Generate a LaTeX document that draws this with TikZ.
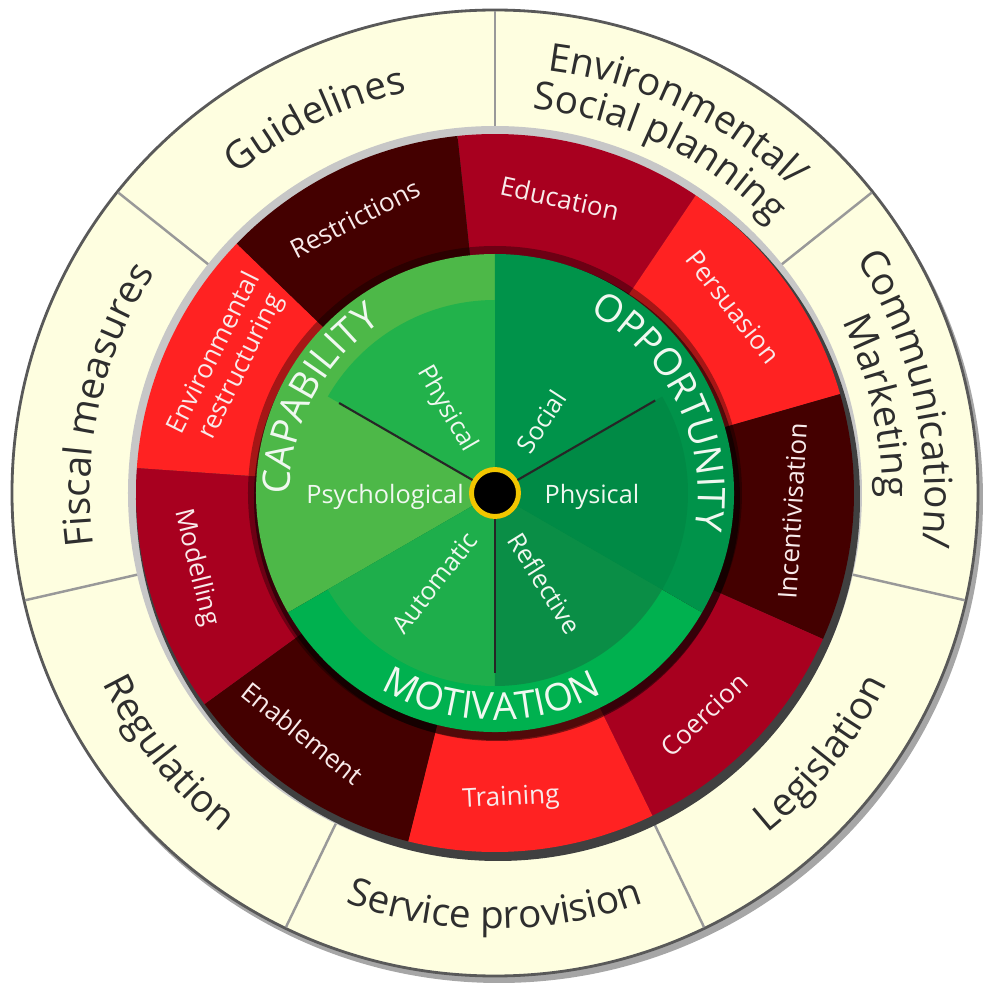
\documentclass[tikz,border=0pt]{standalone}
\usepackage{fontspec}
\setmainfont{Open Sans}
\usetikzlibrary{decorations.text}
\definecolor{cream}{HTML}{FEFEE0}
\definecolor{inkgray}{HTML}{2E2E2E}
\definecolor{crimson}{HTML}{A8001F}
\definecolor{brightred}{HTML}{FF2222}
\definecolor{maroon}{HTML}{440000}
\definecolor{redtxt}{HTML}{F8EAEA}
\definecolor{capband}{HTML}{4DB848}
\definecolor{capphys}{HTML}{22B24B}
\definecolor{oppband}{HTML}{00934A}
\definecolor{oppphys}{HTML}{008A45}
\definecolor{motband}{HTML}{00B14F}
\definecolor{motauto}{HTML}{1EAE4B}
\definecolor{motrefl}{HTML}{0A8E46}
\definecolor{leaftxt}{HTML}{F0F8F0}
\definecolor{hubring}{HTML}{F2C600}

\begin{document}
\begin{tikzpicture}[line join=round,
  outertext/.style={decorate, decoration={text along path, text align=center, text color=inkgray, text={|\fontsize{11}{13}\selectfont|#1}}},
  greencaps/.style={decorate, decoration={text along path, text align=center, text color=leaftxt, text={|\fontsize{10.8}{13}\selectfont|#1}}},
  redlbl/.style={text=redtxt, font=\fontsize{7.4}{8.6}\selectfont, align=center, inner sep=0pt},
  greenlbl/.style={text=leaftxt, font=\fontsize{7.2}{8.6}\selectfont, inner sep=0pt},
  divider/.style={draw=black!40, line width=0.7pt},
  spoke/.style={draw=black!85, line width=0.6pt},
  hubdot/.style={circle, fill=black, draw=hubring, line width=1.4pt, minimum size=0.47cm, inner sep=0pt}]
\useasboundingbox (-4.95,-4.94) rectangle (4.97,4.93);
% policy ring
\fill[black!35] (0.04,-0.06) circle (4.84);
\filldraw[fill=cream, draw=black!65, line width=0.8pt] (0,0) circle (4.83);
\draw[divider] (90:3.64) -- (90:4.82); \draw[divider] (38.57:3.64) -- (38.57:4.82); \draw[divider] (-12.86:3.64) -- (-12.86:4.82); \draw[divider] (-64.29:3.64) -- (-64.29:4.82);
\draw[divider] (-115.71:3.64) -- (-115.71:4.82); \draw[divider] (-167.14:3.64) -- (-167.14:4.82); \draw[divider] (141.43:3.64) -- (141.43:4.82);
\path[outertext=Guidelines] (140.4:4.1) arc[start angle=140.4, end angle=91, radius=4.1];
\path[outertext=Environmental/] (89:4.26) arc[start angle=89, end angle=39.6, radius=4.26];
\path[outertext=Social planning] (89:3.86) arc[start angle=89, end angle=39.6, radius=3.86];
\path[outertext=Communication/] (37.6:4.3) arc[start angle=37.6, end angle=-11.9, radius=4.3];
\path[outertext=Marketing] (37.6:3.87) arc[start angle=37.6, end angle=-11.9, radius=3.87];
\path[outertext=Legislation] (-63.3:4.36) arc[start angle=-63.3, end angle=-13.9, radius=4.36];
\path[outertext=Service provision] (-114.7:4.36) arc[start angle=-114.7, end angle=-65.3, radius=4.36];
\path[outertext=Regulation] (-166.1:4.36) arc[start angle=-166.1, end angle=-116.7, radius=4.36];
\path[outertext=Fiscal measures] (192.1:4.05) arc[start angle=192.1, end angle=142.4, radius=4.05];
% intervention ring
\fill[black!22] (0,0) circle (3.67); \fill[black!75] (0.03,-0.06) circle (3.62);
\fill[crimson] (0,0) -- (96:3.59) arc[start angle=96, end angle=56, radius=3.59] -- cycle;
\fill[brightred] (0,0) -- (56:3.59) arc[start angle=56, end angle=16, radius=3.59] -- cycle;
\fill[maroon] (0,0) -- (16:3.59) arc[start angle=16, end angle=-24, radius=3.59] -- cycle;
\fill[crimson] (0,0) -- (-24:3.59) arc[start angle=-24, end angle=-64, radius=3.59] -- cycle;
\fill[brightred] (0,0) -- (-64:3.59) arc[start angle=-64, end angle=-104, radius=3.59] -- cycle;
\fill[maroon] (0,0) -- (-104:3.59) arc[start angle=-104, end angle=-144, radius=3.59] -- cycle;
\fill[crimson] (0,0) -- (-144:3.59) arc[start angle=-144, end angle=-184, radius=3.59] -- cycle;
\fill[brightred] (0,0) -- (176:3.59) arc[start angle=176, end angle=136, radius=3.59] -- cycle;
\fill[maroon] (0,0) -- (136:3.59) arc[start angle=136, end angle=96, radius=3.59] -- cycle;
\node[redlbl, rotate=-12.4] (edu) at (77.6:3.02) {Education}; \node[redlbl, rotate=-52] (pers) at (38:3.02) {Persuasion};
\node[redlbl, rotate=86.5] (incent) at (-3.5:2.98) {Incentivisation}; \node[redlbl, rotate=43.3] (coer) at (-46.7:3.05) {Coercion};
\node[redlbl, rotate=3] (train) at (-87:3.06) {Training}; \node[redlbl, rotate=-38.7] (enable) at (-128.7:3.08) {Enablement};
\node[redlbl, rotate=-76] (model) at (194:3.08) {Modelling}; \node[redlbl, rotate=63.5] (envrestr) at (153.5:2.98) {Environmental\\restructuring};
\node[redlbl, rotate=27] (restr) at (117:3.08) {Restrictions};
% COM-B wheel
\fill[black, opacity=0.35] (0,0) circle (2.47); \fill[black, opacity=0.5] (0.02,-0.05) circle (2.43);
\fill[capband] (0,0) -- (90:2.39) arc[start angle=90, end angle=210, radius=2.39] -- cycle;
\fill[motband] (0,0) -- (210:2.39) arc[start angle=210, end angle=330, radius=2.39] -- cycle;
\fill[oppband] (0,0) -- (-30:2.39) arc[start angle=-30, end angle=90, radius=2.39] -- cycle;
\fill[capphys] (0,0) -- (90:1.93) arc[start angle=90, end angle=150, radius=1.93] -- cycle;
\fill[motauto] (0,0) -- (210:1.93) arc[start angle=210, end angle=270, radius=1.93] -- cycle;
\fill[motrefl] (0,0) -- (270:1.93) arc[start angle=270, end angle=330, radius=1.93] -- cycle;
\fill[oppphys] (0,0) -- (-30:1.93) arc[start angle=-30, end angle=30, radius=1.93] -- cycle;
\path[greencaps=CAPABILITY] (210:2.05) arc[start angle=210, end angle=94, radius=2.05];
\path[greencaps=OPPORTUNITY] (84:2.03) arc[start angle=84, end angle=-32, radius=2.03];
\path[greencaps=MOTIVATION] (-149:2.27) arc[start angle=-149, end angle=-33, radius=2.27];
\coordinate (capend) at (150:1.8); \coordinate (oppend) at (30:1.85); \coordinate (motend) at (270:1.8);
\node[hubdot] (hub) at (0,0) {};
\draw[spoke] (hub) -- (capend); \draw[spoke] (hub) -- (oppend); \draw[spoke] (hub) -- (motend);
\node[greenlbl, rotate=-60] (capphy) at (120:0.97) {Physical}; \node[greenlbl] (capsych) at (-1.1,-0.04) {Psychological};
\node[greenlbl, rotate=57] (oppsoc) at (57:0.85) {Social}; \node[greenlbl] (oppphy) at (0.97,-0.04) {Physical};
\node[greenlbl, rotate=52] (motaut) at (236:1.08) {Automatic}; \node[greenlbl, rotate=-58] (motref) at (-61:1.03) {Reflective};
\end{tikzpicture}
\end{document}
